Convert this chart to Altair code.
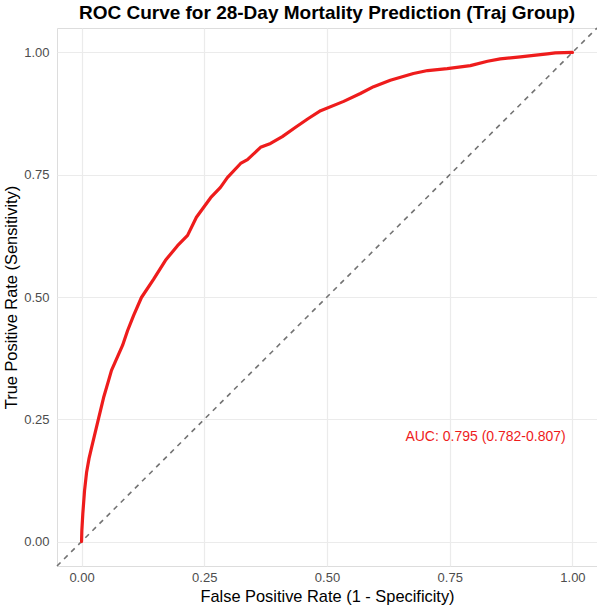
import altair as alt
import pandas as pd

# ROC curve points (false positive rate, true positive rate)
fpr = [0.0, 0.0006, 0.0026, 0.0061, 0.0102, 0.0153, 0.0204, 0.0336, 0.0448, 0.055,
       0.061, 0.0835, 0.0937, 0.1059, 0.122, 0.1466, 0.171, 0.1955, 0.216, 0.234,
       0.263, 0.283, 0.297, 0.324, 0.338, 0.3646, 0.385, 0.409, 0.436, 0.462,
       0.487, 0.534, 0.568, 0.595, 0.629, 0.676, 0.705, 0.745, 0.792, 0.827,
       0.853, 0.894, 0.921, 0.949, 0.965, 1.0]
tpr = [0.0, 0.0225, 0.057, 0.104, 0.141, 0.170, 0.192, 0.247, 0.294, 0.329,
       0.350, 0.401, 0.431, 0.462, 0.499, 0.536, 0.575, 0.605, 0.626, 0.663,
       0.703, 0.724, 0.744, 0.773, 0.781, 0.806, 0.814, 0.828, 0.847, 0.865,
       0.881, 0.900, 0.916, 0.930, 0.943, 0.957, 0.963, 0.967, 0.973, 0.982,
       0.987, 0.991, 0.994, 0.997, 0.999, 1.0]

# chance diagonal spanning the expanded axis range
diag_x = [-0.05, 1.05]
diag_y = [-0.05, 1.05]

tick_values = [0, 0.25, 0.5, 0.75, 1.0]
auc_label = "AUC: 0.795 (0.782-0.807)"
auc_pos = (0.823, 0.213)

FONT = "Liberation Sans"
RED = "#EE1C1C"
DOMAIN = [-0.05, 1.05]

roc_df = pd.DataFrame({"fpr": fpr, "tpr": tpr, "order": range(len(fpr))})
diag_df = pd.DataFrame({"fpr": diag_x, "tpr": diag_y})
label_df = pd.DataFrame({"fpr": [auc_pos[0]], "tpr": [auc_pos[1]], "text": [auc_label]})

x_axis = alt.Axis(
    values=tick_values, format=".2f", title="False Positive Rate (1 - Specificity)",
    grid=True, gridColor="#EBEBEB", gridWidth=1.2, domain=False, ticks=False,
    labelColor="#4D4D4D", labelFontSize=13, labelPadding=5, labelFont=FONT,
    titleFont=FONT, titleFontSize=16.4, titleFontWeight="normal", titleColor="black",
    titlePadding=4,
)
y_axis = alt.Axis(
    values=tick_values, format=".2f", title="True Positive Rate (Sensitivity)",
    grid=True, gridColor="#EBEBEB", gridWidth=1.2, domain=False, ticks=False,
    labelColor="#4D4D4D", labelFontSize=13, labelPadding=8, labelFont=FONT,
    titleFont=FONT, titleFontSize=16.4, titleFontWeight="normal", titleColor="black",
    titlePadding=4,
)

x_enc = alt.X("fpr:Q", scale=alt.Scale(domain=DOMAIN, nice=False, zero=False), axis=x_axis)
y_enc = alt.Y("tpr:Q", scale=alt.Scale(domain=DOMAIN, nice=False, zero=False), axis=y_axis)

diag = alt.Chart(diag_df).mark_line(
    color="#737373", strokeWidth=1.6, strokeDash=[5, 5]
).encode(x=x_enc, y=y_enc)

roc = alt.Chart(roc_df).mark_line(
    color=RED, strokeWidth=3.2, strokeJoin="round", strokeCap="round"
).encode(
    x=alt.X("fpr:Q"), y=alt.Y("tpr:Q"), order="order:Q"
)

label = alt.Chart(label_df).mark_text(
    color=RED, font=FONT, fontSize=14, align="center", baseline="middle"
).encode(x=alt.X("fpr:Q"), y=alt.Y("tpr:Q"), text="text:N")

chart = alt.layer(diag, roc, label).properties(
    width=540, height=538,
    title=alt.TitleParams(
        "ROC Curve for 28-Day Mortality Prediction (Traj Group)",
        font=FONT, fontSize=19, fontWeight="bold", color="black",
        anchor="middle", offset=2,
    ),
    padding={"left": 57, "top": 28, "right": 0, "bottom": 42},
    autosize=alt.AutoSizeParams(type="none"),
).configure_view(stroke=None).configure(background="white")

chart.save("out.html", embed_options={"renderer": "svg", "actions": False})
